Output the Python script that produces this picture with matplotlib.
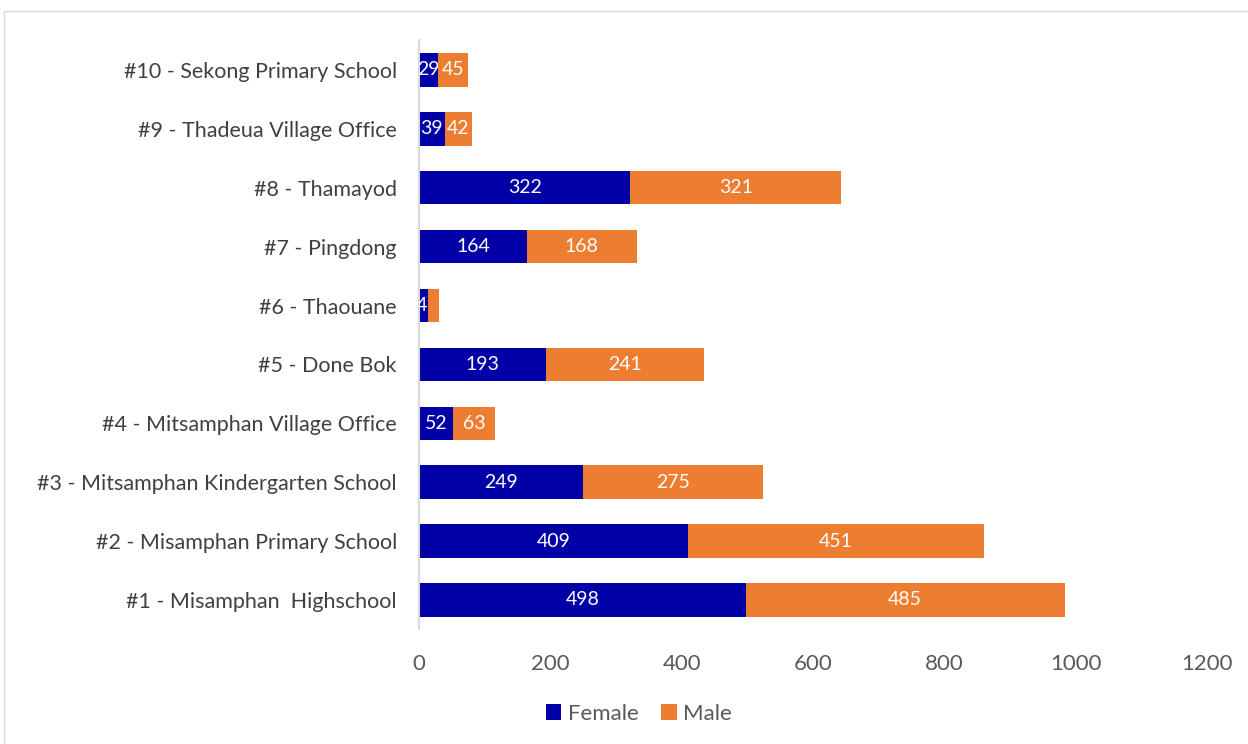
import matplotlib.pyplot as plt
import matplotlib.patches as patches
from matplotlib.transforms import TransformedBbox

plt.rcParams['font.family'] = ['Lato', 'DejaVu Sans']

# Data (top to bottom as shown)
sites = ['#10 - Sekong Primary School', '#9 - Thadeua Village Office', '#8 - Thamayod',
         '#7 - Pingdong', '#6 - Thaouane', '#5 - Done Bok', '#4 - Mitsamphan Village Office',
         '#3 - Mitsamphan Kindergarten School', '#2 - Misamphan Primary School',
         '#1 - Misamphan  Highschool']
female = [29, 39, 322, 164, 14, 193, 52, 249, 409, 498]
male = [45, 42, 321, 168, 16, 241, 63, 275, 451, 485]
male_labels = ['45', '42', '321', '168', '', '241', '63', '275', '451', '485']
xticks = [0, 200, 400, 600, 800, 1000, 1200]

female_color = '#0000A6'
male_color = '#ED7D31'

fig = plt.figure(figsize=(12.48, 7.44), dpi=100)
ax = fig.add_axes([419 / 1248, 0.154, 788 / 1248, 0.7916])

y = list(range(len(sites)))
bf = ax.barh(y, female, height=0.57, color=female_color, label='Female')
bm = ax.barh(y, male, left=female, height=0.57, color=male_color, label='Male')

ax.set_ylim(len(sites) - 0.5, -0.5)
ax.set_xlim(0, 1200)

# labels clipped to their bars, like the original
for bars, labs in [(bf, [str(v) for v in female]), (bm, male_labels)]:
    for rect, lab in zip(bars, labs):
        cy = rect.get_y() + rect.get_height() / 2
        if rect.get_width() < 20:
            # too narrow: only the tail of the label shows
            t = ax.text(rect.get_x() + rect.get_width(), cy, lab, ha='right', va='center',
                        color='white', fontsize=14, clip_on=True)
        else:
            t = ax.text(rect.get_x() + rect.get_width() / 2, cy, lab, ha='center',
                        va='center', color='white', fontsize=14, clip_on=True)
        t.set_clip_box(TransformedBbox(rect.get_bbox(), ax.transData))

ax.set_yticks(y)
ax.set_yticklabels(sites, fontsize=15.5, color='#404040')
ax.set_xticks(xticks)
ax.set_xticklabels([str(v) for v in xticks], fontsize=16, color='#595959')
ax.tick_params(axis='both', length=0)
ax.tick_params(axis='x', pad=18)
ax.tick_params(axis='y', pad=16)

for s in ['top', 'right', 'bottom']:
    ax.spines[s].set_visible(False)
ax.spines['left'].set_color('#D9D9D9')
ax.spines['left'].set_linewidth(1.5)

leg = fig.legend(loc='lower center', bbox_to_anchor=(0.512, 0.0), ncol=2, frameon=False,
                 fontsize=16, handlelength=0.7, handleheight=0.7, columnspacing=1.0,
                 handletextpad=0.3)
for t in leg.get_texts():
    t.set_color('#595959')

# outer chart border
fig.patches.append(patches.Rectangle((4 / 1248, -0.01), 1.2, 1 - 11 / 744 + 0.01,
                                     transform=fig.transFigure, fill=False,
                                     edgecolor='#D9D9D9', linewidth=1))

fig.savefig('out.png', dpi=100)
